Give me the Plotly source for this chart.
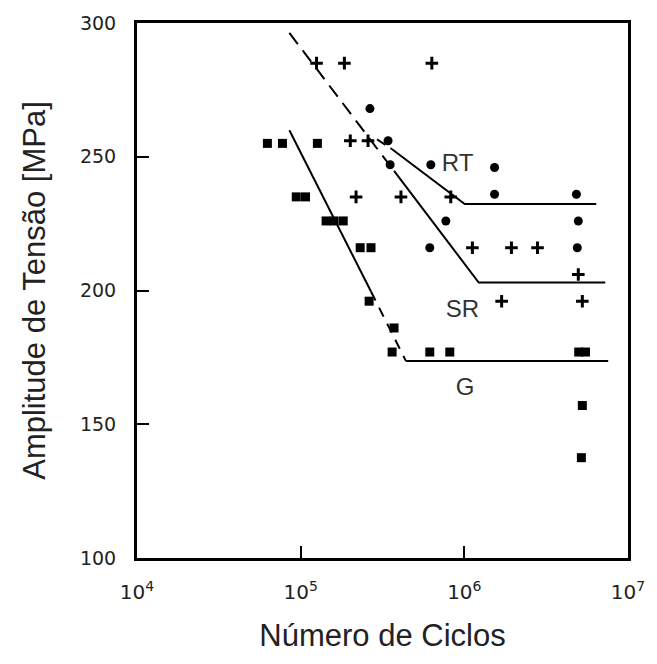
import plotly.graph_objects as go

# Fatigue test results: stress amplitude [MPa] vs number of cycles
rt_cycles = [265e3, 342e3, 352e3, 624e3, 1.53e6, 1.53e6, 4.84e6, 771e3, 4.97e6, 615e3, 4.9e6]
rt_stress = [268, 256, 247, 247, 246, 236, 236, 226, 226, 216, 216]

sr_cycles = [125e3, 185e3, 633e3, 201e3, 258e3, 218e3, 410e3, 826e3,
             1.12e6, 1.94e6, 2.8e6, 4.97e6, 1.69e6, 5.26e6]
sr_stress = [285, 285, 285, 256, 256, 235, 235, 235,
             216, 216, 216, 206, 196, 196]

g_cycles = [62.6e3, 77.4e3, 126.5e3, 94e3, 107e3, 143e3, 160e3, 182e3,
            231e3, 269e3, 262e3, 372e3, 362e3, 615e3, 815e3, 5.0e6, 5.5e6,
            5.26e6, 5.19e6]
g_stress = [255, 255, 255, 235, 235, 226, 226, 226,
            216, 216, 196, 186, 177, 177, 177, 177, 177,
            157, 137.5]

# S-N curve vertices (dashed part, solid part)
rt_dash_x = [293e3, 362e3]
rt_dash_y = [256.5, 252.8]
rt_solid_x = [362e3, 1.005e6, 6.4e6]
rt_solid_y = [252.8, 232.3, 232.3]

sr_dash_x = [85.3e3, 372e3]
sr_dash_y = [296.3, 244.7]
sr_solid_x = [372e3, 1.224e6, 7.26e6]
sr_solid_y = [244.7, 203.0, 203.0]

g_solid_x = [85.3e3, 269e3]
g_solid_y = [259.9, 199.6]
g_dash_x = [269e3, 440e3]
g_dash_y = [199.6, 173.6]
g_flat_x = [440e3, 7.57e6]
g_flat_y = [173.6, 173.6]

curve_labels = ["RT", "SR", "G"]
label_x = [7.28e5, 7.71e5, 8.87e5]
label_y = [246.8, 192.2, 163.2]

x_tickvals = [1e4, 1e5, 1e6, 1e7]
x_ticktext = ["10<sup>4</sup>", "10<sup>5</sup>", "10<sup>6</sup>", "10<sup>7</sup>"]
y_tickvals = [100, 150, 200, 250, 300]

fig = go.Figure()


def add_line(xs, ys, dash="solid"):
    fig.add_trace(go.Scatter(x=xs, y=ys, mode="lines",
                             line=dict(color="black", width=2, dash=dash),
                             hoverinfo="skip", showlegend=False))


add_line(rt_dash_x, rt_dash_y, "10px,6px")
add_line(rt_solid_x, rt_solid_y)
add_line(sr_dash_x, sr_dash_y, "14px,8px")
add_line(sr_solid_x, sr_solid_y)
add_line(g_solid_x, g_solid_y)
add_line(g_dash_x, g_dash_y, "10px,8px")
add_line(g_flat_x, g_flat_y)

fig.add_trace(go.Scatter(x=rt_cycles, y=rt_stress, mode="markers", name="RT",
                         marker=dict(symbol="circle", size=9, color="black"),
                         showlegend=False))
fig.add_trace(go.Scatter(x=sr_cycles, y=sr_stress, mode="markers", name="SR",
                         marker=dict(symbol="cross-thin", size=9,
                                     line=dict(color="black", width=3)),
                         showlegend=False))
fig.add_trace(go.Scatter(x=g_cycles, y=g_stress, mode="markers", name="G",
                         marker=dict(symbol="square", size=9, color="black"),
                         showlegend=False))

fig.add_trace(go.Scatter(x=label_x, y=label_y, mode="text", text=curve_labels,
                         textposition="middle right",
                         textfont=dict(family="Liberation Sans", size=24, color="#333"),
                         hoverinfo="skip", showlegend=False))

axis_common = dict(showline=True, linecolor="black", linewidth=3, mirror=True,
                   ticks="inside", ticklen=12, tickwidth=2, tickcolor="black",
                   showgrid=False, zeroline=False, ticklabelstandoff=14)

fig.update_xaxes(type="log", range=[4, 7], tickvals=x_tickvals, ticktext=x_ticktext,
                 tickfont=dict(family="DejaVu Sans", size=20, color="#222"),
                 title=dict(text="Número de Ciclos", standoff=22,
                            font=dict(family="Liberation Sans", size=31, color="#222")),
                 **axis_common)
fig.update_yaxes(range=[100, 300], tickvals=y_tickvals,
                 tickfont=dict(family="DejaVu Sans", size=19, color="#222"),
                 title=dict(text="Amplitude de Tensão [MPa]", standoff=26,
                            font=dict(family="Liberation Sans", size=31, color="#222")),
                 **axis_common)

fig.update_layout(width=657, height=664,
                  margin=dict(l=137, r=27, t=19, b=106),
                  paper_bgcolor="white", plot_bgcolor="white")

fig.write_html("out.html")
